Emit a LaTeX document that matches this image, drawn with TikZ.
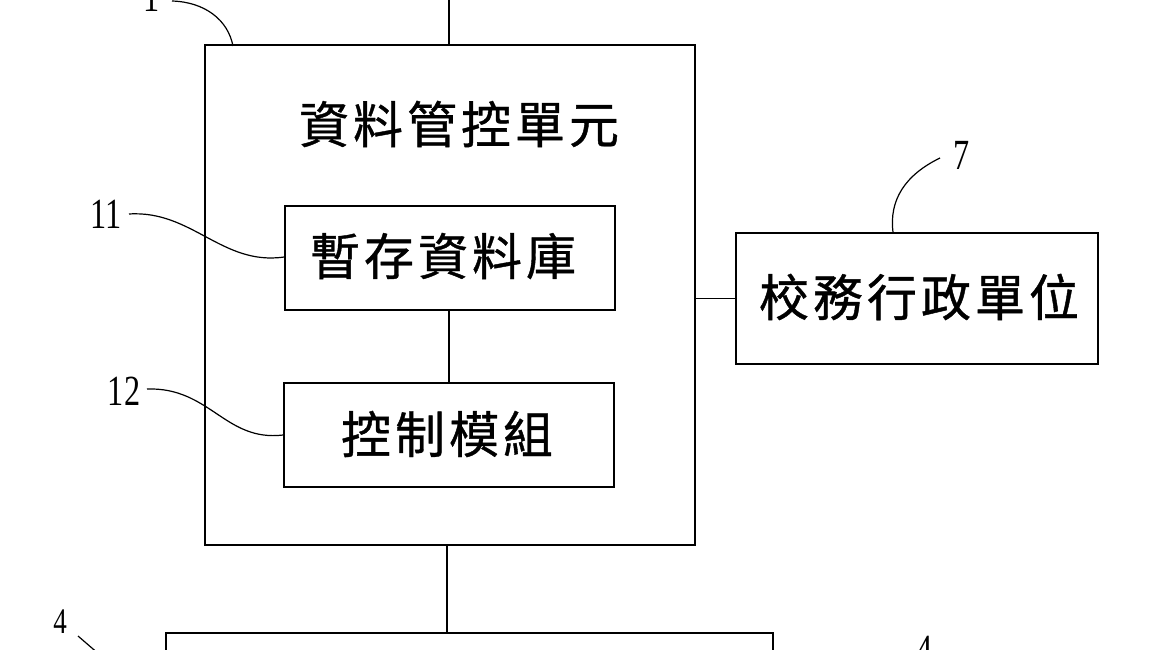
\documentclass[tikz,border=0pt]{standalone}
\usepackage{fontspec}
\setmainfont{Liberation Serif}
\newfontfamily\cjk[LetterSpace=8,FakeBold=0.8]{Noto Sans CJK TC}
\begin{document}
\begin{tikzpicture}[x=1pt,y=-1pt,
  box/.style={draw,line width=1.7pt,inner sep=0pt},
  conn/.style={line width=1.7pt},
  lead/.style={line width=1.2pt},
  cjklabel/.style={font=\cjk\fontsize{50}{58}\selectfont,inner sep=0pt},
  numlabel/.style={font=\fontsize{43}{48}\selectfont,xscale=0.75,inner sep=0pt}]
\useasboundingbox (0,0) rectangle (1170,650);
\clip (0,0) rectangle (1170,650);
\fill[white] (0,0) rectangle (1170,650);
% boxes
\node[box,minimum width=490pt,minimum height=500pt] (outer) at (450,295) {};
\node[cjklabel] (title) at (459,124) {資料管控單元};
\node[box,minimum width=330pt,minimum height=104pt] (db) at (450,258) {};
\node[cjklabel] (dbt) at (443,256) {暫存資料庫};
\node[box,minimum width=330pt,minimum height=104pt] (ctrl) at (449,435) {};
\node[cjklabel] (ctrlt) at (447,434) {控制模組};
\node[box,minimum width=362pt,minimum height=131pt] (adm) at (917,298.5) {};
\node[cjklabel] (admt) at (919,297) {校務行政單位};
\node[box,minimum width=607pt,minimum height=100pt] (bot) at (469.5,683) {};
% connectors
\coordinate (topend) at (449,-5);
\draw[conn] (outer.north -| topend) -- (topend);
\draw[conn] (db.south -| 449,0) -- (ctrl.north -| 449,0);
\draw[conn] (outer.east |- adm.west) -- (adm.west);
\draw[conn] (outer.south -| 447,0) -- (bot.north -| 447,0);
% reference labels
\node[numlabel,anchor=base] (l1) at (152,12) {1};
\coordinate (l1s) at (172,1);
\draw[lead] (l1s) .. controls (205,2) and (228,20) .. (233,46);
\node[numlabel] (l11) at (106,214) {11};
\draw[lead] (129,214) .. controls (192,210) and (222,266) .. (db.west |- 0,257);
\node[numlabel] (l12) at (124,391) {12};
\draw[lead] (147,389) .. controls (210,387) and (225,442) .. (ctrl.west |- 0,435);
\node[numlabel] (l7) at (962,155) {7};
\draw[lead] (940,158) .. controls (905,175) and (889,200) .. (adm.north -| 893,0);
\node[numlabel,font=\fontsize{36}{40}\selectfont] (l4a) at (60,622) {4};
\coordinate (l4aend) at (100,655);
\draw[lead] (78,636) -- (l4aend);
\node[numlabel,anchor=north] (l4b) at (925,636) {4};
\end{tikzpicture}
\end{document}
